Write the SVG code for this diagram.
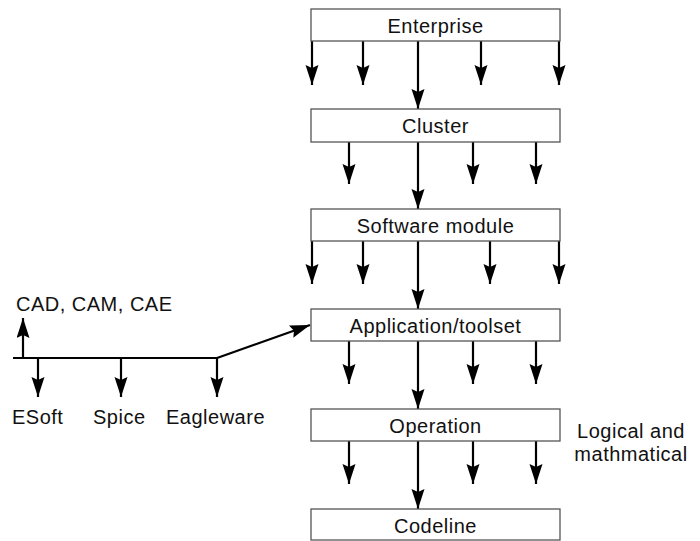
<svg xmlns="http://www.w3.org/2000/svg" width="700" height="541" viewBox="0 0 700 541">
  <style>
    .box { fill: #ffffff; stroke: #555555; stroke-width: 1.3; }
    .lbl { font-family: "Liberation Sans", Arial, sans-serif; font-size: 20px; letter-spacing: 0.5px; fill: #111111; }
    .mid { text-anchor: middle; }
    .wire { stroke: #000000; stroke-width: 2.2; fill: none; }
    .arr { stroke: #000000; stroke-width: 2.2; fill: none; marker-end: url(#head); }
  </style>
  <defs>
    <marker id="head" markerUnits="userSpaceOnUse" markerWidth="22" markerHeight="14" refX="20" refY="6.5" orient="auto">
      <path d="M0,0 L20,6.5 L0,13 L3,6.5 z" fill="#000000"/>
    </marker>
  </defs>

  <rect width="700" height="541" fill="#ffffff"/>

  <!-- connectors -->
  <g id="connectors">
    <!-- Enterprise -->
    <line class="arr" x1="312" y1="41" x2="312" y2="85"/>
    <line class="arr" x1="363" y1="41" x2="363" y2="85"/>
    <line class="arr" x1="418" y1="41" x2="418" y2="109"/>
    <line class="arr" x1="481" y1="41" x2="481" y2="85"/>
    <line class="arr" x1="559" y1="41" x2="559" y2="85"/>
    <!-- Cluster -->
    <line class="arr" x1="349" y1="142" x2="349" y2="184"/>
    <line class="arr" x1="418" y1="142" x2="418" y2="209"/>
    <line class="arr" x1="473" y1="142" x2="473" y2="184"/>
    <line class="arr" x1="536" y1="142" x2="536" y2="184"/>
    <!-- Software module -->
    <line class="arr" x1="312" y1="241" x2="312" y2="284"/>
    <line class="arr" x1="363" y1="241" x2="363" y2="284"/>
    <line class="arr" x1="418" y1="241" x2="418" y2="309"/>
    <line class="arr" x1="490" y1="241" x2="490" y2="284"/>
    <line class="arr" x1="559" y1="241" x2="559" y2="284"/>
    <!-- Application/toolset -->
    <line class="arr" x1="349" y1="341" x2="349" y2="384"/>
    <line class="arr" x1="418" y1="341" x2="418" y2="409"/>
    <line class="arr" x1="473" y1="341" x2="473" y2="384"/>
    <line class="arr" x1="536" y1="341" x2="536" y2="384"/>
    <!-- Operation -->
    <line class="arr" x1="349" y1="441" x2="349" y2="484"/>
    <line class="arr" x1="418" y1="441" x2="418" y2="509"/>
    <line class="arr" x1="473" y1="441" x2="473" y2="484"/>
    <line class="arr" x1="536" y1="441" x2="536" y2="484"/>
    <!-- tool bus on the left -->
    <line class="wire" x1="13" y1="358" x2="218" y2="358"/>
    <line class="arr" x1="23" y1="358" x2="23" y2="318"/>
    <line class="arr" x1="38" y1="358" x2="38" y2="397"/>
    <line class="arr" x1="121" y1="358" x2="121" y2="397"/>
    <line class="arr" x1="217" y1="358" x2="217" y2="397"/>
    <line class="arr" x1="217" y1="358" x2="310" y2="325"/>
  </g>

  <g id="enterprise">
    <rect class="box" x="311" y="9" width="249" height="32"/>
    <text class="lbl mid" x="435.5" y="33">Enterprise</text>
  </g>
  <g id="cluster">
    <rect class="box" x="311" y="109" width="249" height="33"/>
    <text class="lbl mid" x="435.5" y="133">Cluster</text>
  </g>
  <g id="software-module">
    <rect class="box" x="311" y="209" width="249" height="32"/>
    <text class="lbl mid" x="435.5" y="233">Software module</text>
  </g>
  <g id="application-toolset">
    <rect class="box" x="311" y="309" width="249" height="32"/>
    <text class="lbl mid" x="435.5" y="333">Application/toolset</text>
  </g>
  <g id="operation">
    <rect class="box" x="311" y="409" width="249" height="32"/>
    <text class="lbl mid" x="435.5" y="433">Operation</text>
  </g>
  <g id="codeline">
    <rect class="box" x="311" y="509" width="249" height="31"/>
    <text class="lbl mid" x="435.5" y="533">Codeline</text>
  </g>

  <g id="operation-note">
    <text class="lbl mid" x="631" y="438">Logical and</text>
    <text class="lbl mid" x="631" y="461">mathmatical</text>
  </g>

  <g id="tools">
    <text class="lbl" x="16" y="311">CAD, CAM, CAE</text>
    <text class="lbl" x="12" y="424">ESoft</text>
    <text class="lbl" x="93" y="424">Spice</text>
    <text class="lbl" x="166" y="424">Eagleware</text>
  </g>
</svg>
